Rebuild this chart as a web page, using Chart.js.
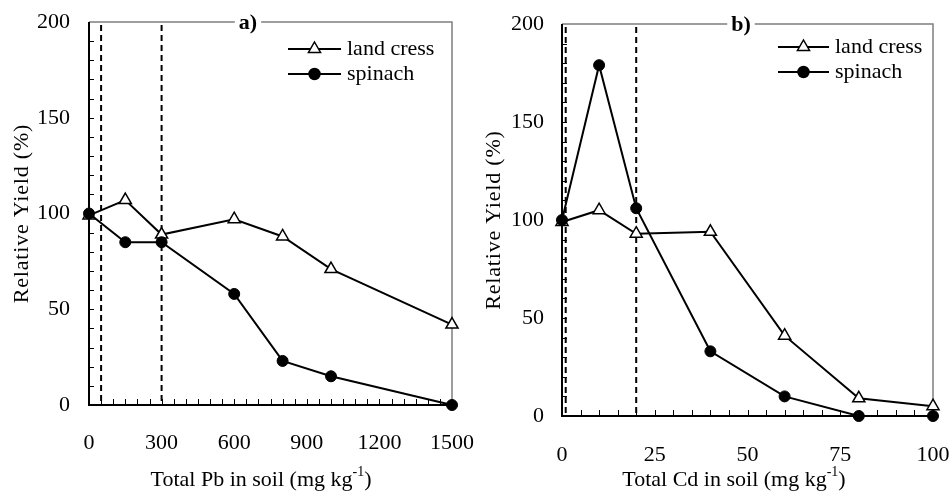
<!DOCTYPE html>
<html><head><meta charset="utf-8">
<script src="https://cdn.jsdelivr.net/npm/chart.js@4.4.0/dist/chart.umd.min.js"></script>
<style>
html,body{margin:0;padding:0;background:#fff;}
#wrap{position:relative;width:952px;height:496px;overflow:hidden;}
.panel{position:absolute;top:0;width:476px;height:496px;}
</style></head><body>
<div id="wrap">
<div class="panel" style="left:0"><canvas id="cA" width="476" height="496"></canvas></div>
<div class="panel" style="left:476px"><canvas id="cB" width="476" height="496"></canvas></div>
</div>
<script>
// ---- data ----
const seriesNames = ['land cress', 'spinach'];
const pbLevels = [0, 150, 300, 600, 800, 1000, 1500];
const pbLandCress = [99, 107, 89, 97, 88, 71, 42];
const pbSpinach = [100, 85, 85, 58, 23, 15, 0];
const pbThresholds = [50, 300];
const pbTickStep = 300;
const pbMax = 1500;
const pbMinorStep = 50;

const cdLevels = [0, 10, 20, 40, 60, 80, 100];
const cdLandCress = [99, 105, 93, 94, 41, 9, 5];
const cdSpinach = [100, 179, 106, 33, 10, 0, 0];
const cdThresholds = [1, 20];
const cdTickStep = 25;
const cdMax = 100;
const cdMinorStep = 5;

const yMax = 200;
const yTickStep = 50;
const yMinorStep = 10;

const FONT = "'Liberation Serif', 'Times New Roman', serif";

function drawMarker(ctx, style, x, y) {
  ctx.save();
  ctx.lineWidth = 1.5;
  ctx.strokeStyle = '#000';
  ctx.beginPath();
  if (style === 'triangle') {
    const r = 7;
    ctx.moveTo(x, y - r);
    ctx.lineTo(x + 0.866 * r, y + 0.5 * r);
    ctx.lineTo(x - 0.866 * r, y + 0.5 * r);
    ctx.closePath();
    ctx.fillStyle = '#fff';
  } else {
    ctx.arc(x, y, 5.5, 0, Math.PI * 2);
    ctx.fillStyle = '#000';
  }
  ctx.fill();
  ctx.stroke();
  ctx.restore();
}

const decor = {
  id: 'decor',
  beforeDatasetsDraw(chart, args, o) {
    const { ctx, chartArea: a, scales: { x, y } } = chart;
    ctx.save();
    // dashed threshold lines
    ctx.strokeStyle = '#000';
    ctx.lineWidth = 2;
    ctx.setLineDash([6, 4]);
    o.thresholds.forEach(v => {
      const px = x.getPixelForValue(v);
      ctx.beginPath();
      ctx.moveTo(px, a.top + 3);
      ctx.lineTo(px, a.bottom);
      ctx.stroke();
    });
    ctx.setLineDash([]);
    // inward minor ticks
    ctx.lineWidth = 1;
    ctx.strokeStyle = '#000';
    const ny = Math.round(y.max / o.yMinor);
    for (let i = 1; i < ny; i++) {
      const py = Math.round(y.getPixelForValue(i * o.yMinor)) + 0.5;
      ctx.beginPath(); ctx.moveTo(a.left, py); ctx.lineTo(a.left + 5, py); ctx.stroke();
    }
    const nx = Math.round(x.max / o.xMinor);
    for (let i = 1; i < nx; i++) {
      const px = Math.round(x.getPixelForValue(i * o.xMinor)) + 0.5;
      ctx.beginPath(); ctx.moveTo(px, a.bottom); ctx.lineTo(px, a.bottom - 6); ctx.stroke();
    }
    // frame: top & right grey
    ctx.strokeStyle = '#7f7f7f';
    ctx.lineWidth = 1.5;
    ctx.beginPath();
    ctx.moveTo(a.left, a.top); ctx.lineTo(a.right, a.top); ctx.lineTo(a.right, a.bottom);
    ctx.stroke();
    // left & bottom black
    ctx.strokeStyle = '#000';
    ctx.lineWidth = 2;
    ctx.beginPath();
    ctx.moveTo(a.left, a.top); ctx.lineTo(a.left, a.bottom); ctx.lineTo(a.right, a.bottom);
    ctx.stroke();
    ctx.restore();
  },
  afterDraw(chart, args, o) {
    const { ctx, chartArea: a } = chart;
    ctx.save();
    // panel label over the top line
    ctx.font = 'bold 22px ' + FONT;
    ctx.textBaseline = 'middle';
    ctx.textAlign = 'center';
    const w = ctx.measureText(o.label).width;
    ctx.fillStyle = '#fff';
    ctx.fillRect(o.labelX - w / 2 - 4, a.top - 10, w + 8, 20);
    ctx.fillStyle = '#000';
    ctx.fillText(o.label, o.labelX, a.top + 1);

    // legend
    ctx.font = '22px ' + FONT;
    ctx.textAlign = 'left';
    const styles = ['triangle', 'circle'];
    seriesNames.forEach((name, i) => {
      const ry = o.legendY + i * 25;
      ctx.strokeStyle = '#000';
      ctx.lineWidth = 2;
      ctx.beginPath(); ctx.moveTo(o.legendX1, ry); ctx.lineTo(o.legendX2, ry); ctx.stroke();
      drawMarker(ctx, styles[i], (o.legendX1 + o.legendX2) / 2, ry);
      ctx.fillStyle = '#000';
      ctx.fillText(name, o.legendX2 + 6, ry);
    });

    // y-axis title
    ctx.save();
    ctx.translate(o.yTitleX, (a.top + a.bottom) / 2);
    ctx.rotate(-Math.PI / 2);
    ctx.textAlign = 'center';
    ctx.textBaseline = 'middle';
    ctx.font = '22px ' + FONT;
    if ('letterSpacing' in ctx) ctx.letterSpacing = '0.8px';
    ctx.fillText('Relative Yield (%)', 0, 0);
    ctx.restore();

    // x-axis title with superscript
    ctx.textBaseline = 'middle';
    ctx.textAlign = 'left';
    const main = o.xTitle, sup = '-1', end = ')';
    ctx.font = '22px ' + FONT;
    const wMain = ctx.measureText(main).width;
    const wEnd = ctx.measureText(end).width;
    ctx.font = '14px ' + FONT;
    const wSup = ctx.measureText(sup).width;
    const total = wMain + wSup + wEnd;
    let sx = o.xTitleCX - total / 2;
    ctx.font = '22px ' + FONT;
    ctx.fillText(main, sx, o.xTitleY);
    ctx.font = '14px ' + FONT;
    ctx.fillText(sup, sx + wMain, o.xTitleY - 8);
    ctx.font = '22px ' + FONT;
    ctx.fillText(end, sx + wMain + wSup, o.xTitleY);
    ctx.restore();
  }
};

function makePanel(id, xs, lc, sp, p) {
  const toPts = (vals) => xs.map((v, i) => ({ x: v, y: vals[i] }));
  return new Chart(document.getElementById(id), {
    type: 'line',
    data: {
      datasets: [
        {
          label: seriesNames[0], data: toPts(lc), order: 2,
          borderColor: '#000', borderWidth: 2, pointStyle: 'triangle',
          pointRadius: 7, pointBackgroundColor: '#fff', pointBorderColor: '#000',
          pointBorderWidth: 1.5, tension: 0, clip: false
        },
        {
          label: seriesNames[1], data: toPts(sp), order: 1,
          borderColor: '#000', borderWidth: 2, pointStyle: 'circle',
          pointRadius: 5.5, pointBackgroundColor: '#000', pointBorderColor: '#000',
          pointBorderWidth: 1, tension: 0, clip: false
        }
      ]
    },
    options: {
      responsive: false,
      animation: false,
      layout: { padding: { top: p.top, right: p.right, left: 0, bottom: 0 } },
      scales: {
        x: {
          type: 'linear', min: 0, max: p.xMax,
          ticks: { stepSize: p.xStep, color: '#000', font: { family: FONT, size: 22 }, padding: 0, maxRotation: 0,
                   callback: v => String(v) },
          grid: { display: false, drawTicks: true, tickLength: p.xPad },
          border: { display: false },
          afterFit: s => { s.height = p.xH; }
        },
        y: {
          type: 'linear', min: 0, max: yMax,
          ticks: { stepSize: yTickStep, color: '#000', font: { family: FONT, size: 22 }, padding: 0,
                   callback: v => String(v) },
          grid: { display: false, drawTicks: true, tickLength: p.yPad },
          border: { display: false },
          afterFit: s => { s.width = p.yW; }
        }
      },
      plugins: {
        legend: { display: false },
        tooltip: { enabled: false },
        decor: p.decor
      }
    },
    plugins: [decor]
  });
}

makePanel('cA', pbLevels, pbLandCress, pbSpinach, {
  top: 22, right: 24, xH: 91, yW: 89, xMax: pbMax, xStep: pbTickStep, xPad: 25, yPad: 19,
  decor: {
    thresholds: pbThresholds, xMinor: pbMinorStep, yMinor: yMinorStep,
    label: 'a)', labelX: 248, legendX1: 288, legendX2: 341, legendY: 49,
    yTitleX: 22, xTitle: 'Total Pb in soil (mg kg', xTitleCX: 261, xTitleY: 480
  }
});
makePanel('cB', cdLevels, cdLandCress, cdSpinach, {
  top: 24, right: 19, xH: 80, yW: 86, xMax: cdMax, xStep: cdTickStep, xPad: 26, yPad: 18,
  decor: {
    thresholds: cdThresholds, xMinor: cdMinorStep, yMinor: yMinorStep,
    label: 'b)', labelX: 265, legendX1: 302, legendX2: 353, legendY: 47,
    yTitleX: 18, xTitle: 'Total Cd in soil (mg kg', xTitleCX: 258, xTitleY: 480
  }
});
</script>
</body></html>
